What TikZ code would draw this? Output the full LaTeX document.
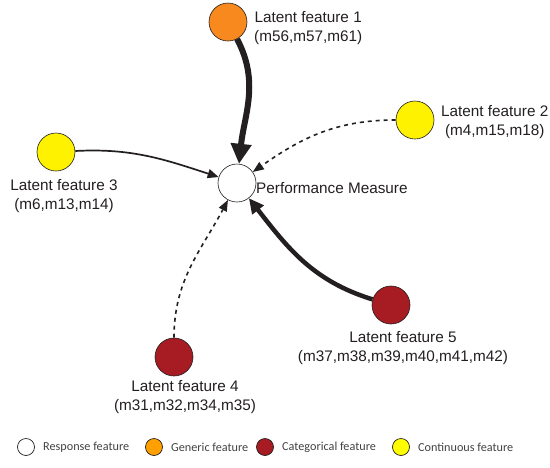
\documentclass[tikz,border=0pt]{standalone}
\usepackage{fontspec}
\setmainfont{Liberation Sans}
\newfontfamily\legendfont{Carlito}
\usetikzlibrary{arrows.meta}
\definecolor{genorange}{HTML}{F7891F}
\definecolor{catred}{HTML}{A61C22}
\definecolor{contyellow}{HTML}{FFF200}
\definecolor{legorange}{HTML}{FFA000}
\definecolor{legyellow}{HTML}{FFFF00}
\definecolor{edgeblack}{HTML}{231F20}
\begin{document}
\begin{tikzpicture}[x=1pt,y=-1pt,
  feat/.style={circle,draw=edgeblack,line width=0.6pt,minimum size=38pt,inner sep=0pt},
  lbl/.style={font=\fontsize{15.3}{19}\selectfont,align=center,inner sep=0pt,text=edgeblack},
  legdot/.style={circle,draw=edgeblack,line width=0.7pt,minimum size=17pt,inner sep=0pt},
  legtxt/.style={font=\legendfont\fontsize{12.2}{14}\selectfont,anchor=west,inner sep=0pt,text=edgeblack!85},
  link/.style={draw=edgeblack,line width=#1},
  dlink/.style={draw=edgeblack,line width=1.6pt,dash pattern=on 4pt off 4pt}
]
\useasboundingbox (0,0) rectangle (550,467);

% feature nodes
\node[feat,fill=white] (pm) at (237,183) {};
\node[feat,fill=genorange] (f1) at (228,22) {};
\node[feat,fill=contyellow] (f2) at (415,120) {};
\node[feat,fill=contyellow] (f3) at (56,152) {};
\node[feat,fill=catred] (f4) at (174,357) {};
\node[feat,fill=catred] (f5) at (391,305) {};

% labels
\node[lbl,anchor=west] (tpm) at (256,188) {Performance Measure};
\node[lbl,anchor=west] (t1) at (254,28) {Latent feature 1\\(m56,m57,m61)};
\node[lbl,anchor=west] (t2) at (441,122) {Latent feature 2\\(m4,m15,m18)};
\node[lbl] (t3) at (64,196) {Latent feature 3\\(m6,m13,m14)};
\node[lbl] (t4) at (185,397) {Latent feature 4\\(m31,m32,m34,m35)};
\node[lbl] (t5) at (403,348) {Latent feature 5\\(m37,m38,m39,m40,m41,m42)};

% connectors
\draw[link=6pt,-{Triangle[length=20pt,width=20pt]}] (f1) to[out=-62,in=84] (pm);
\draw[link=1.7pt,-{Triangle[length=11pt,width=9pt]}] (f3) to[out=3,in=162] (pm);
\draw[dlink,-{Triangle[length=11pt,width=9pt,line width=0pt]}] (f2.west) to[out=180,in=35] (pm);
\draw[dlink,-{Triangle[length=11pt,width=9pt,line width=0pt]}] (f4.north) to[out=90,in=242] (pm);
\draw[link=4.5pt,-{Triangle[length=15pt,width=14pt]}] (f5) to[out=163,in=-52] (pm);

% legend
\node[legdot,fill=white] (l1) at (26,447) {};
\node[legtxt] (lt1) at (43,447) {Response feature};
\node[legdot,fill=legorange] (l2) at (154,447) {};
\node[legtxt] (lt2) at (171,447) {Generic feature};
\node[legdot,fill=catred] (l3) at (265,447) {};
\node[legtxt] (lt3) at (282,447) {Categorical feature};
\node[legdot,fill=legyellow] (l4) at (401,447) {};
\node[legtxt] (lt4) at (418,447) {Continuous feature};
\end{tikzpicture}
\end{document}
